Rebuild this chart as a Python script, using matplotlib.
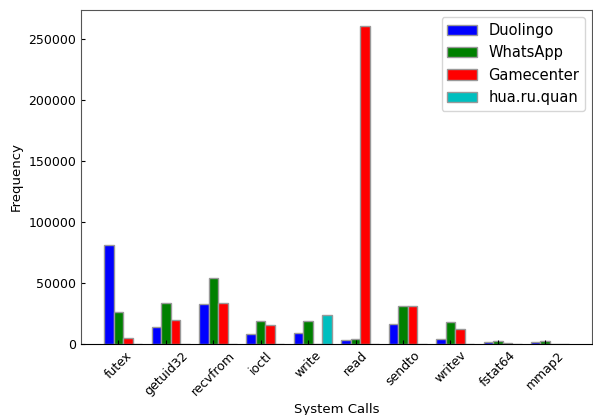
import matplotlib
matplotlib.use("Agg")
import matplotlib.pyplot as plt
import numpy as np

categories = ["futex", "getuid32", "recvfrom", "ioctl", "write", "read",
              "sendto", "writev", "fstat64", "mmap2"]
duolingo   = [81500, 13700, 33000, 8200, 8700, 3000, 16100, 4400, 1400, 1400]
whatsapp   = [26500, 33600, 54000, 19100, 19100, 4400, 31200, 18300, 2200, 2200]
gamecenter = [4700, 19700, 33400, 15800, 300, 260700, 31200, 12000, 800, 200]
huaruquan  = [200, 200, 100, 100, 23500, 300, 100, 100, 100, 50]
series_names = ["Duolingo", "WhatsApp", "Gamecenter", "hua.ru.quan"]
series_colors = ["#0000ff", "#008000", "#ff0000", "#00bfbf"]

fig = plt.figure(figsize=(5.93, 4.15), dpi=100)
ax = fig.add_axes([0.1366, 0.171, 0.862, 0.805])

x = np.arange(len(categories))
w = 0.2
for k, (vals, name, col) in enumerate(zip([duolingo, whatsapp, gamecenter, huaruquan],
                                          series_names, series_colors)):
    ax.bar(x + (k - 1) * w, vals, width=w, color=col, edgecolor="#999999",
           linewidth=1.0, label=name)

ax.set_xticks(x)
ax.set_xticklabels(categories, rotation=45, fontsize=9)
ax.tick_params(axis="both", direction="in", length=3, labelsize=9)
ax.set_ylabel("Frequency", fontsize=9.5)
ax.set_xlabel("System Calls", fontsize=9.5)

for s in ["left", "top", "right"]:
    ax.spines[s].set_color("#555555")
ax.spines["bottom"].set_color("black")

ax.legend(loc="upper right", fontsize=10.5)
fig.savefig("out.png", dpi=100)
